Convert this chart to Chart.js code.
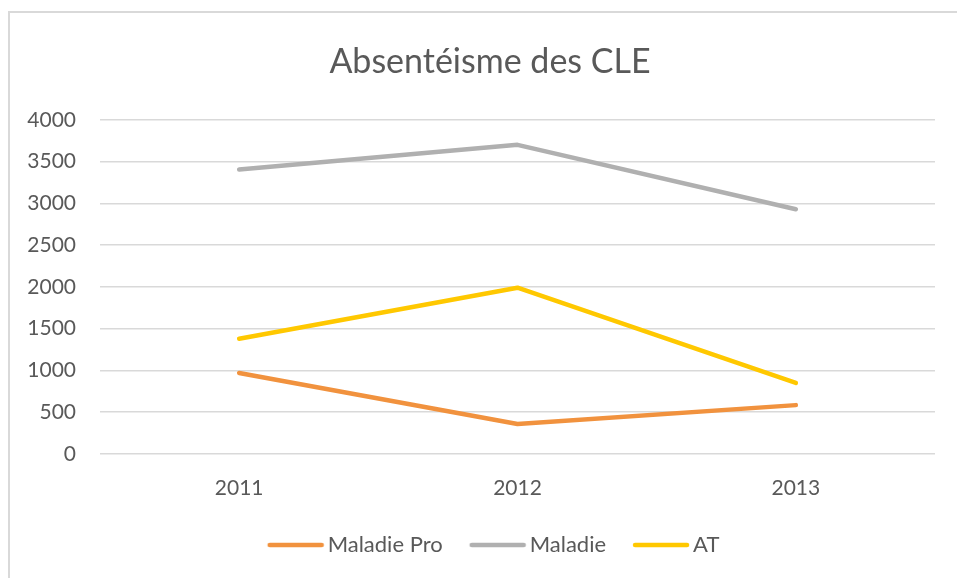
<!DOCTYPE html>
<html>
<head>
<meta charset="utf-8">
<script src="https://cdn.jsdelivr.net/npm/chart.js@4/dist/chart.umd.min.js"></script>
<style>
  html, body { margin: 0; padding: 0; background: #fff; }
</style>
</head>
<body>
<canvas id="myChart" width="957" height="578"></canvas>
<script>
var years = ['2011', '2012', '2013'];
var maladiePro = [970, 360, 585];
var maladie = [3405, 3700, 2930];
var at = [1380, 1990, 850];
var yTicks = [0, 500, 1000, 1500, 2000, 2500, 3000, 3500, 4000];

var textColor = '#595959';
var fontFamily = 'Lato, "Open Sans", sans-serif';

// legend swatch: a short thick line, shifted right so it sits close to the text
function swatch(color) {
    var c = document.createElement('canvas');
    c.width = 72;
    c.height = 8;
    var g = c.getContext('2d');
    g.strokeStyle = color;
    g.lineWidth = 4.5;
    g.lineCap = 'round';
    g.beginPath();
    g.moveTo(17, 4);
    g.lineTo(69, 4);
    g.stroke();
    return c;
}

// light frame round the chart, like the Excel chart border
const frame = {
    id: 'frame',
    beforeDraw(chart) {
        const c = chart.ctx;
        c.save();
        c.fillStyle = '#fff';
        c.fillRect(0, 0, chart.width, chart.height);
        c.strokeStyle = '#D9D9D9';
        c.lineWidth = 2;
        c.strokeRect(9, 12, chart.width + 20, chart.height + 20);
        c.restore();
    },
    // let the y labels run left of the layout padding without clipping
    afterLayout(chart) {
        chart.scales.y.left = 0;
    }
};

var colors = ['rgb(241,146,62)', 'rgb(176,176,176)', 'rgb(255,200,0)'];

var ctx = document.getElementById('myChart').getContext('2d');
const myChart = new Chart(ctx, {
    type: 'line',
    data: {
        labels: years,
        datasets: [
            { label: 'Maladie Pro', data: maladiePro },
            { label: 'Maladie', data: maladie },
            { label: 'AT', data: at }
        ].map(function (d, i) {
            d.borderColor = colors[i];
            d.backgroundColor = colors[i];
            d.borderWidth = 4.5;
            d.pointRadius = 0;
            d.pointStyle = swatch(colors[i]);
            d.tension = 0;
            d.borderCapStyle = 'round';
            d.borderJoinStyle = 'round';
            d.fill = false;
            return d;
        })
    },
    options: {
        responsive: false,
        animation: false,
        layout: { padding: { left: 45, right: 22, top: 11, bottom: 12 } },
        plugins: {
            title: {
                display: true,
                text: 'Absentéisme des CLE',
                color: textColor,
                font: { family: fontFamily, size: 34, weight: 'normal' },
                padding: { top: 31, bottom: 37 }
            },
            legend: {
                position: 'bottom',
                labels: {
                    usePointStyle: true,
                    pointStyleWidth: 56,
                    color: textColor,
                    font: { family: fontFamily, size: 22 },
                    padding: 20
                }
            },
            tooltip: { enabled: false }
        },
        scales: {
            x: {
                offset: true,
                grid: { display: false, drawTicks: false },
                border: { display: false },
                ticks: { color: textColor, font: { family: fontFamily, size: 21 }, padding: 22 },
                afterFit: function (scale) { scale.height = 60; }
            },
            y: {
                min: 0,
                max: 4000,
                afterBuildTicks: function (scale) {
                    scale.ticks = yTicks.map(function (v) { return { value: v }; });
                },
                grid: { color: '#D9D9D9', lineWidth: 1.5, drawTicks: false },
                border: { display: false },
                ticks: {
                    color: textColor,
                    font: { family: fontFamily, size: 21 },
                    padding: 24,
                    callback: function (v) { return String(v); }
                },
                afterFit: function (scale) { scale.width = 55; }
            }
        }
    },
    plugins: [frame]
});
</script>
</body>
</html>
